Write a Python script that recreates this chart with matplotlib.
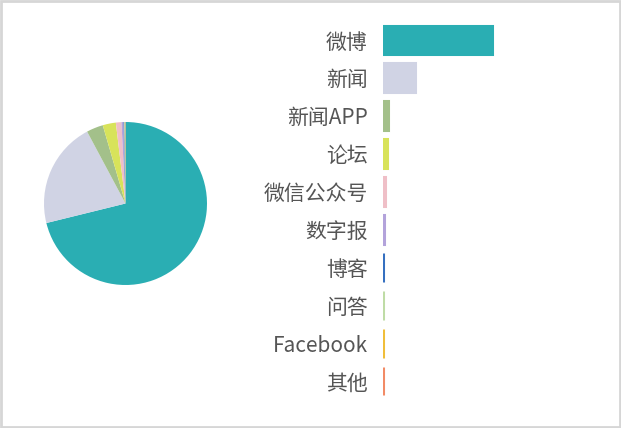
import matplotlib.pyplot as plt
from matplotlib.patches import Rectangle

plt.rcParams['font.family'] = ['Noto Sans CJK SC', 'DejaVu Sans']

# source channels and mention counts
channels = ['微博', '新闻', '新闻APP', '论坛', '微信公众号', '数字报', '博客', '问答', 'Facebook', '其他']
counts = [7100, 2100, 330, 260, 110, 40, 15, 10, 8, 6]
colors = ['#2AAEB3', '#D0D3E4', '#A3C08A', '#D8E35A', '#EFBFC7',
          '#B3A3DB', '#3670C0', '#BFDCA6', '#F0BE3A', '#F28B66']

fig = plt.figure(figsize=(6.21, 4.28), dpi=100)

# pie on the left
ax_pie = fig.add_axes([44 / 621, 1 - 285 / 428, 163 / 621, 163 / 428])
ax_pie.pie(counts, colors=colors, startangle=90, counterclock=False,
           wedgeprops=dict(linewidth=0))
ax_pie.set_xlim(-1, 1)
ax_pie.set_ylim(-1, 1)
ax_pie.set_aspect('equal')

# bars on the right (thick edges keep the tiny bars visible)
ax_bar = fig.add_axes([383 / 621, 1 - 400 / 428, 207 / 621, 379 / 428])
ind = list(range(len(channels)))
ax_bar.barh(ind, counts, height=0.76, color=colors, edgecolor=colors, linewidth=2.2)
ax_bar.set_xlim(0, 7100 * 207 / 109)
ax_bar.set_ylim(len(channels) - 0.5, -0.5)
ax_bar.set_yticks(ind)
ax_bar.set_yticklabels(channels, fontsize=15, color='#555555')
ax_bar.tick_params(axis='y', length=0, pad=11)
ax_bar.set_xticks([])
for s in ax_bar.spines.values():
    s.set_visible(False)

# light frame around the whole chart
fig.patches.append(Rectangle((0.001, 0.002), 0.997, 0.996, transform=fig.transFigure,
                             fill=False, edgecolor='#D6D6D6', linewidth=2))

fig.savefig('out.png', dpi=100)
